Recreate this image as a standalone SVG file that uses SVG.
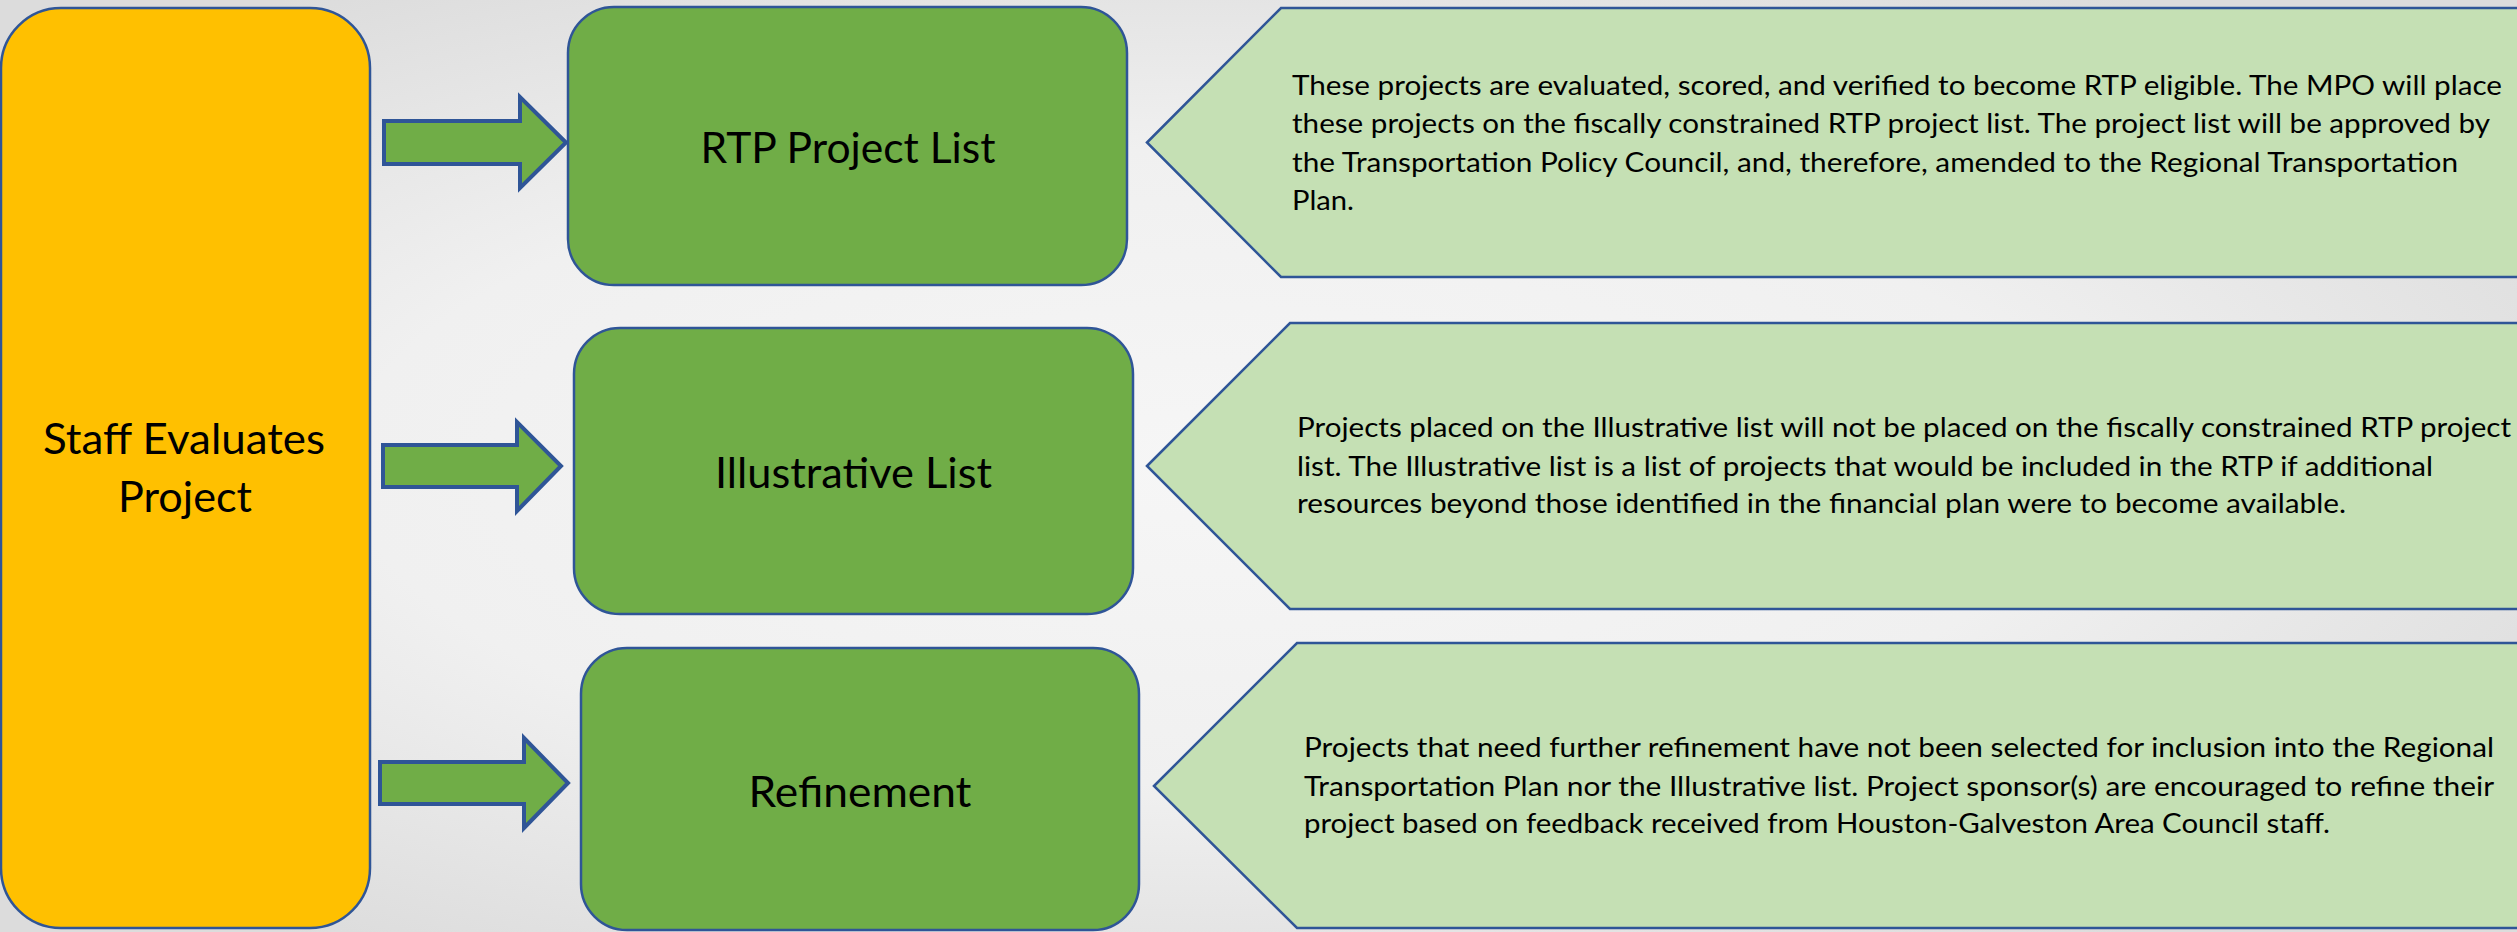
<svg xmlns="http://www.w3.org/2000/svg" width="2517" height="932" viewBox="0 0 2517 932">
<defs>
<radialGradient id="bg" cx="48%" cy="50%" r="62%">
<stop offset="0" stop-color="#f6f6f6"/>
<stop offset="0.55" stop-color="#f0f0f0"/>
<stop offset="1" stop-color="#dcdcdc"/>
</radialGradient>
<style>
.box{stroke:#2F5597;stroke-width:2.5}
.yellow{fill:#FFC000}
.green{fill:#70AD47}
.callout{fill:#C5E0B4;stroke:#2F5597;stroke-width:2.5}
.arrow{fill:#70AD47;stroke:#2F5597;stroke-width:4;stroke-linejoin:miter}
.title{font-family:Lato,"Noto Sans",sans-serif;font-size:42px;fill:#000;text-anchor:middle}
.body{font-family:Lato,"Noto Sans",sans-serif;font-size:27px;fill:#000}
</style>
</defs>
<rect x="0" y="0" width="2517" height="932" fill="url(#bg)"/>

<g id="staff-evaluates">
<rect class="box yellow" x="1" y="8" width="369" height="920" rx="60" ry="60"/>
<text class="title" x="184" y="454" textLength="282" lengthAdjust="spacingAndGlyphs">Staff Evaluates</text>
<text class="title" x="185" y="512" textLength="134" lengthAdjust="spacingAndGlyphs">Project</text>
</g>

<g id="connectors">
<path class="arrow" d="M384,121 H520 V97 L566,142.5 L520,188 V164 H384 Z"/>
<path class="arrow" d="M383,445 H517 V422 L561,466 L517,511 V487 H383 Z"/>
<path class="arrow" d="M380,762 H524 V738 L568,783 L524,828 V804 H380 Z"/>
</g>

<g id="rtp-project-list">
<rect class="box green" x="568" y="7" width="559" height="278" rx="46" ry="46"/>
<text class="title" x="848" y="163" textLength="295" lengthAdjust="spacingAndGlyphs">RTP Project List</text>
</g>

<g id="illustrative-list">
<rect class="box green" x="574" y="328" width="559" height="286" rx="46" ry="46"/>
<text class="title" x="853.5" y="488" textLength="277" lengthAdjust="spacingAndGlyphs">Illustrative List</text>
</g>

<g id="refinement">
<rect class="box green" x="581" y="648" width="558" height="282" rx="46" ry="46"/>
<text class="title" x="860" y="807" textLength="223" lengthAdjust="spacingAndGlyphs">Refinement</text>
</g>

<g id="rtp-description">
<path class="callout" d="M1147,142.5 L1281,8 H2535 V277 H1281 Z"/>
<text class="body" x="1292" y="95" textLength="1210" lengthAdjust="spacingAndGlyphs">These projects are evaluated, scored, and verified to become RTP eligible. The MPO will place</text>
<text class="body" x="1292" y="133" textLength="1198" lengthAdjust="spacingAndGlyphs">these projects on the fiscally constrained RTP project list. The project list will be approved by</text>
<text class="body" x="1292" y="172" textLength="1166" lengthAdjust="spacingAndGlyphs">the Transportation Policy Council, and, therefore, amended to the Regional Transportation</text>
<text class="body" x="1292" y="210" textLength="62" lengthAdjust="spacingAndGlyphs">Plan.</text>
</g>

<g id="illustrative-description">
<path class="callout" d="M1147,466 L1290,323 H2535 V609 H1290 Z"/>
<text class="body" x="1297" y="437" textLength="1214" lengthAdjust="spacingAndGlyphs">Projects placed on the Illustrative list will not be placed on the fiscally constrained RTP project</text>
<text class="body" x="1297" y="476" textLength="1136" lengthAdjust="spacingAndGlyphs">list. The Illustrative list is a list of projects that would be included in the RTP if additional</text>
<text class="body" x="1297" y="513" textLength="1049" lengthAdjust="spacingAndGlyphs">resources beyond those identified in the financial plan were to become available.</text>
</g>

<g id="refinement-description">
<path class="callout" d="M1154,786 L1297,643 H2535 V928 H1297 Z"/>
<text class="body" x="1304" y="757" textLength="1190" lengthAdjust="spacingAndGlyphs">Projects that need further refinement have not been selected for inclusion into the Regional</text>
<text class="body" x="1304" y="796" textLength="1190" lengthAdjust="spacingAndGlyphs">Transportation Plan nor the Illustrative list. Project sponsor(s) are encouraged to refine their</text>
<text class="body" x="1304" y="833" textLength="1026" lengthAdjust="spacingAndGlyphs">project based on feedback received from Houston-Galveston Area Council staff.</text>
</g>
</svg>
